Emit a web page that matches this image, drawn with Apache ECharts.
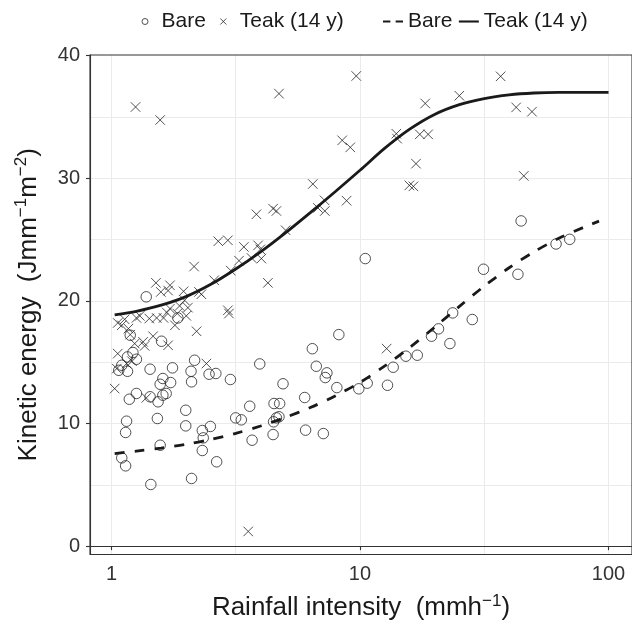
<!DOCTYPE html>
<html><head><meta charset="utf-8">
<script src="https://cdn.jsdelivr.net/npm/echarts@6/dist/echarts.min.js"></script>
<style>html,body{margin:0;padding:0;background:#fff}#c{width:632px;height:626px}</style>
</head><body><div id="c"></div>
<script>
// Rainfall intensity (mm/h), kinetic energy (J mm^-1 m^-2)
const barePoints = [
  [10.5,23.45],[8.22,17.25],[6.43,16.1],[6.67,14.67],[7.36,14.13],[7.25,13.75],[8.07,12.93],
  [5.99,12.12],[9.89,12.83],[10.69,13.29],[12.9,13.12],[13.6,14.59],[15.3,15.49],[17.0,15.57],
  [19.4,17.12],[20.7,17.72],[23.0,16.52],[23.6,19.02],[28.3,18.48],[31.4,22.58],[43.2,22.17],
  [61.5,24.64],[69.8,25.02],[6.04,9.46],[7.12,9.18],[44.5,26.52],
  [1.38,20.33],[1.85,18.61],[1.59,16.71],[1.22,15.79],[1.16,15.43],[1.26,15.24],[1.10,14.75],
  [1.07,14.34],[1.16,14.26],[1.43,14.43],[1.76,14.54],[2.16,15.16],[2.09,14.26],[2.47,14.02],
  [2.63,14.08],[3.95,14.86],[1.61,13.67],[1.57,13.2],[1.73,13.34],[2.10,13.4],[3.01,13.59],
  [4.90,13.24],[1.26,12.45],[1.18,11.98],[1.43,12.18],[1.66,12.45],[1.61,12.31],[1.54,11.77],
  [3.60,11.41],[4.51,11.63],[4.75,11.63],[1.99,11.08],[1.15,10.19],[1.14,9.27],[1.53,10.41],
  [1.99,9.81],[2.32,9.43],[2.34,8.83],[2.50,9.76],[3.16,10.46],[3.33,10.3],[3.68,8.64],
  [4.49,10.14],[4.61,10.46],[4.72,10.55],[4.47,9.1],[1.57,8.23],[2.32,7.8],[1.10,7.2],
  [1.14,6.55],[2.65,6.88],[2.10,5.52],[1.44,5.03],[1.19,17.2]
];
const teakPoints = [
  [1.25,35.81],[1.57,34.75],[4.72,36.9],[9.66,38.34],[36.8,38.31],[25.1,36.73],[18.3,36.1],
  [42.5,35.78],[49.2,35.43],[8.48,33.09],[9.14,32.52],[14.0,33.63],[14.1,33.23],[17.4,33.58],
  [18.8,33.58],[16.8,31.19],[15.8,29.42],[16.4,29.34],[45.6,30.19],[6.46,29.53],[7.2,28.2],
  [6.77,27.58],[7.22,27.33],[8.83,28.17],[3.83,27.06],[4.47,27.52],[4.61,27.33],[5.02,25.76],
  [2.69,24.86],[2.94,24.94],[3.41,24.4],[3.89,24.53],[3.97,24.2],[3.26,23.28],[3.66,23.5],
  [4.01,23.45],[2.15,22.8],[3.02,22.47],[2.59,21.68],[4.26,21.47],[1.51,21.47],[1.72,21.27],
  [1.58,20.73],[1.69,20.84],[1.95,20.78],[2.25,20.73],[2.30,20.54],[1.97,20.05],[1.88,19.59],
  [2.03,19.45],[1.72,19.37],[1.67,19.05],[1.84,18.97],[2.00,18.78],[1.80,18.01],[1.62,18.61],
  [1.52,18.61],[1.42,18.56],[1.30,18.78],[1.26,18.61],[1.13,18.5],[1.06,18.2],[1.10,18.01],
  [1.17,17.74],[1.19,17.25],[2.20,17.52],[1.47,17.12],[1.34,16.66],[1.24,16.52],[1.36,16.33],
  [1.69,16.38],[1.06,15.7],[1.15,14.89],[1.21,15.08],[1.05,14.48],[2.41,14.89],[1.03,12.85],
  [1.38,12.09],[2.94,19.23],[2.97,18.97],[12.8,16.11],[3.55,1.2]
];
// fitted curves at roughly even steps of log intensity
const bareCurve = [
  [1.03,7.55],[1.259,7.75],[1.585,8.0],[1.995,8.3],[2.512,8.7],[3.162,9.2],[3.981,9.8],
  [5.012,10.5],[6.31,11.3],[7.943,12.25],[10,13.35],[12.59,14.7],[15.85,16.2],[19.95,17.85],
  [25.12,19.55],[31.62,21.2],[39.81,22.7],[50.12,24.0],[63.1,25.1],[79.43,26.0],[91.6,26.5]
];
const teakCurve = [
  [1.03,18.85],[1.259,19.15],[1.585,19.65],[1.995,20.35],[2.512,21.35],[3.162,22.6],[3.981,24.0],
  [5.012,25.55],[6.31,27.2],[7.943,28.9],[10,30.65],[12.59,32.45],[15.85,34.0],[19.95,35.2],
  [25.12,36.0],[31.62,36.5],[39.81,36.8],[50.12,36.95],[63.1,37.0],[100,37.0]
];
const xTicks = [1, 10, 100];
const yTicks = [0, 10, 20, 30, 40];
const xGrid = [1, 3.1623, 10, 31.623, 100];
const yGrid = [0, 5, 10, 15, 20, 25, 30, 35];
const legendNames = {BareP: 'Bare', TeakP: 'Teak (14 y)', BareL: 'Bare', TeakL: 'Teak (14 y)'};

const FONT = '"Liberation Sans", Arial, Helvetica, sans-serif';
const INK = '#262626';
const crossPath = 'path://M0,0L10,10M10,0L0,10';
const dashIcon = 'path://M0,0h7v2h-7zM12,0h7v2h-7z';
const solidIcon = 'path://M0,0h19v2h-19z';

const chart = echarts.init(document.getElementById('c'), null, {renderer: 'canvas'});
const titleRich = {
  t: {fontSize: 26, fontFamily: FONT, color: '#1a1a1a', lineHeight: 31},
  s: {fontSize: 17, fontFamily: FONT, color: '#1a1a1a', lineHeight: 17, verticalAlign: 'top'}
};
const gridLines = xGrid.map(v => ({xAxis: v})).concat(yGrid.map(v => ({yAxis: v})));
const legendText = {fontSize: 21, fontFamily: FONT, color: '#1a1a1a'};

chart.setOption({
  animation: false,
  backgroundColor: '#fff',
  grid: {left: 90, right: -1, top: 55, bottom: 70, show: true, borderColor: '#333', borderWidth: 1.1, z: 4},
  legend: [
    {left: 141.5, top: 11, padding: 0, itemWidth: 23, itemHeight: 6, itemGap: 14, selectedMode: false,
     data: [{name: 'BareP', icon: 'circle'}, {name: 'TeakP', icon: crossPath}],
     formatter: n => legendNames[n],
     itemStyle: {borderWidth: 1},
     textStyle: legendText},
    {left: 383, top: 11, padding: 0, itemWidth: 20, itemHeight: 6, itemGap: 6.5, selectedMode: false,
     data: [{name: 'BareL', icon: dashIcon}, {name: 'TeakL', icon: solidIcon}],
     formatter: n => legendNames[n],
     itemStyle: {borderWidth: 0},
     textStyle: legendText}
  ],
  xAxis: {
    type: 'log', logBase: 10, min: 0.8196, max: 124.3, z: 4,
    name: '{t|Rainfall intensity  (mmh}{s|\u22121}{t|)}',
    nameLocation: 'middle', nameGap: 38,
    nameTextStyle: {rich: titleRich},
    axisLine: {show: true, lineStyle: {color: '#333', width: 1.1}},
    axisTick: {show: true, length: 4, customValues: xTicks, lineStyle: {color: '#333', width: 1.1}},
    axisLabel: {customValues: xTicks, margin: 10, fontSize: 20, fontFamily: FONT, color: '#333'},
    splitLine: {show: false}, minorSplitLine: {show: false}
  },
  yAxis: {
    type: 'value', min: -0.68, max: 40.05, z: 4,
    name: '{t|Kinetic energy  (Jmm}{s|\u22121}{t|m}{s|\u22122}{t|)}',
    nameLocation: 'middle', nameGap: 46, nameRotate: 90,
    nameTextStyle: {rich: titleRich},
    axisLine: {show: true, lineStyle: {color: '#333', width: 1.1}},
    axisTick: {show: true, length: 4, customValues: yTicks, lineStyle: {color: '#333', width: 1.1}},
    axisLabel: {customValues: yTicks, margin: 10, fontSize: 20, fontFamily: FONT, color: '#333'},
    splitLine: {show: false}
  },
  series: [
    {name: 'BareP', type: 'scatter', data: barePoints, symbol: 'circle', symbolSize: 10.5, z: 2,
     itemStyle: {color: 'rgba(0,0,0,0)', borderColor: INK, borderWidth: 1},
     emphasis: {disabled: true},
     markLine: {silent: true, symbol: 'none', z: 1, animation: false,
       label: {show: false}, emphasis: {disabled: true},
       lineStyle: {color: '#EBEBEB', width: 1, type: 'solid'}, data: gridLines}},
    {name: 'TeakP', type: 'scatter', data: teakPoints, symbol: crossPath, symbolSize: 9.5, z: 2,
     itemStyle: {color: INK, borderColor: INK, borderWidth: 1},
     emphasis: {disabled: true}},
    {name: 'BareL', type: 'line', data: bareCurve, symbol: 'none', showSymbol: false, smooth: 0.3, z: 3,
     lineStyle: {color: '#1a1a1a', width: 2.8, type: [10, 10]}, itemStyle: {color: '#1a1a1a'},
     emphasis: {disabled: true}},
    {name: 'TeakL', type: 'line', data: teakCurve, symbol: 'none', showSymbol: false, smooth: 0.3, z: 3,
     lineStyle: {color: '#1a1a1a', width: 2.8}, itemStyle: {color: '#1a1a1a'},
     emphasis: {disabled: true}}
  ]
});
</script>
</body></html>
